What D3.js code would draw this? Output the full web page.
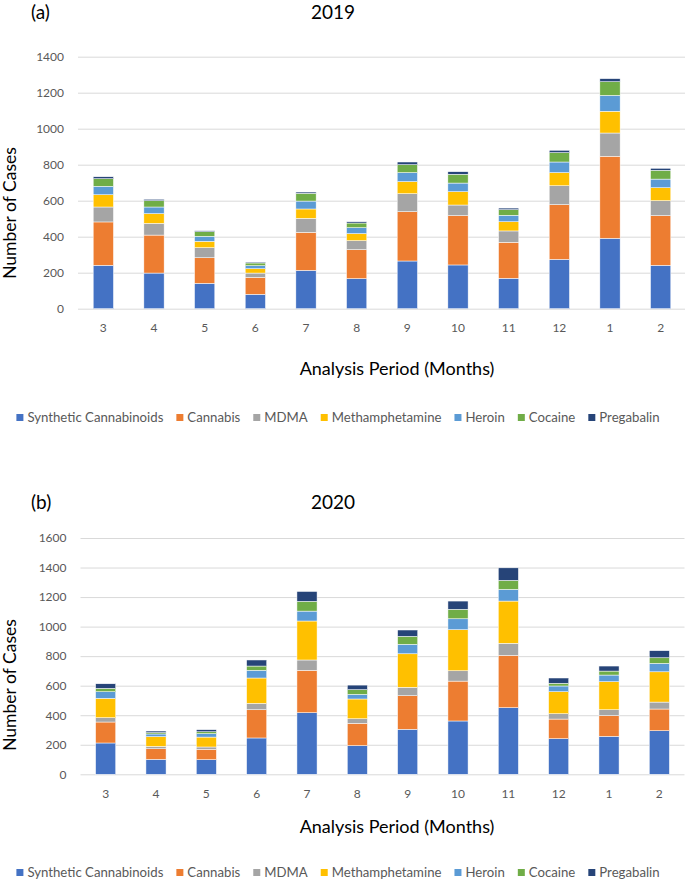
<!DOCTYPE html>
<html>
<head>
<meta charset="utf-8">
<script src="https://cdn.jsdelivr.net/npm/d3@7"></script>
<style>
  body { margin: 0; background: #fff; }
  text { font-family: Lato, "Open Sans", sans-serif; }
</style>
</head>
<body>
<svg id="chart" width="685" height="882"></svg>
<script>
// months of the analysis period (March -> February)
var months = ["3", "4", "5", "6", "7", "8", "9", "10", "11", "12", "1", "2"];
var drugs = ["Synthetic Cannabinoids", "Cannabis", "MDMA", "Methamphetamine", "Heroin", "Cocaine", "Pregabalin"];
var colors = ["#4472C4", "#ED7D31", "#A5A5A5", "#FFC000", "#5B9BD5", "#70AD47", "#264478"];

// 2019
var synth2019 = [241, 198, 141, 80, 213, 167, 265, 243, 169, 274, 391, 241];
var cannabis2019 = [241, 211, 142, 94, 211, 161, 274, 274, 200, 304, 456, 276];
var mdma2019 = [83, 65, 56, 24, 78, 50, 100, 59, 63, 105, 129, 83];
var meth2019 = [68, 54, 35, 24, 52, 39, 67, 74, 51, 73, 121, 72];
var heroin2019 = [47, 37, 28, 17, 44, 33, 50, 48, 36, 59, 88, 48];
var cocaine2019 = [42, 35, 26, 15, 43, 26, 44, 49, 31, 52, 76, 49];
var pregabalin2019 = [11, 8, 5, 5, 7, 7, 15, 14, 9, 13, 17, 11];

// 2020
var synth2020 = [212, 101, 99, 246, 417, 194, 305, 361, 451, 241, 257, 295];
var cannabis2020 = [142, 72, 70, 191, 287, 151, 227, 270, 354, 133, 140, 147];
var mdma2020 = [29, 16, 16, 43, 70, 31, 57, 70, 82, 36, 40, 47];
var meth2020 = [131, 66, 67, 172, 264, 134, 227, 278, 286, 149, 190, 205];
var heroin2020 = [45, 18, 23, 52, 67, 31, 64, 74, 79, 39, 45, 57];
var cocaine2020 = [23, 9, 13, 29, 66, 32, 54, 64, 61, 18, 27, 38];
var pregabalin2020 = [31, 11, 14, 41, 67, 31, 43, 56, 85, 36, 34, 48];

var svg = d3.select("#chart");
var color = d3.scaleOrdinal().domain(drugs).range(colors);

function toRows(series) {
  return months.map(function(m, i) {
    var row = { month: m };
    drugs.forEach(function(d, j) { row[d] = series[j][i]; });
    return row;
  });
}

function drawPanel(cfg) {
  var g = svg.append("g");

  var x = d3.scaleBand().domain(months)
    .range([cfg.left, cfg.right])
    .paddingInner(0.6).paddingOuter(0.3);
  var y = d3.scaleLinear().domain([0, cfg.max]).range([cfg.bottom, cfg.top]);

  // gridlines + y labels
  g.append("g")
    .attr("transform", "translate(" + cfg.left + ",0)")
    .call(d3.axisLeft(y).tickValues(d3.range(0, cfg.max + 1, 200))
      .tickFormat(d3.format("d"))
      .tickSize(-(cfg.right - cfg.left)).tickPadding(14))
    .call(function(a) { a.select(".domain").remove(); })
    .call(function(a) { a.selectAll("line").attr("stroke", "#d9d9d9"); })
    .call(function(a) {
      a.selectAll("text").attr("fill", "#595959")
        .style("font-size", "12px").style("font-family", "Lato, sans-serif");
    });

  // x labels
  g.append("g")
    .attr("transform", "translate(0," + cfg.bottom + ")")
    .call(d3.axisBottom(x).tickSize(0).tickPadding(15))
    .call(function(a) { a.select(".domain").remove(); })
    .call(function(a) {
      a.selectAll("text").attr("fill", "#595959")
        .style("font-size", "12px").style("font-family", "Lato, sans-serif");
    });

  var stacked = d3.stack().keys(drugs)(toRows(cfg.series));

  g.selectAll("g.layer")
    .data(stacked)
    .enter().append("g")
      .attr("class", "layer")
      .attr("fill", function(d) { return color(d.key); })
    .selectAll("rect")
    .data(function(d) { return d; })
    .enter().append("rect")
      .attr("x", function(d) { return x(d.data.month); })
      .attr("y", function(d) { return y(d[1]); })
      .attr("width", x.bandwidth())
      .attr("height", function(d) { return y(d[0]) - y(d[1]); })
      .attr("stroke", "#fff")
      .attr("stroke-width", 0.5);

  // titles
  g.append("text").attr("x", 31).attr("y", cfg.titleY)
    .style("font-size", "19px").attr("fill", "#000").text(cfg.tag);
  g.append("text").attr("x", 333).attr("y", cfg.titleY)
    .attr("text-anchor", "middle")
    .style("font-size", "19px").attr("fill", "#000").text(cfg.year);

  g.append("text").attr("x", 397).attr("y", cfg.xTitleY)
    .attr("text-anchor", "middle")
    .style("font-size", "18px").attr("fill", "#000")
    .text("Analysis Period (Months)");

  g.append("text")
    .attr("transform", "translate(16," + cfg.yTitleMid + ") rotate(-90)")
    .attr("text-anchor", "middle")
    .style("font-size", "17.5px").attr("fill", "#000")
    .text("Number of Cases");

  // legend
  var leg = g.append("g");
  var cx = 0;
  drugs.forEach(function(d) {
    var item = leg.append("g").attr("transform", "translate(" + cx + ",0)");
    item.append("rect").attr("x", 0).attr("y", -8).attr("width", 7).attr("height", 7)
      .attr("fill", color(d));
    var t = item.append("text").attr("x", 11).attr("y", 0)
      .style("font-size", "13.2px").attr("fill", "#595959").text(d);
    cx += 11 + t.node().getComputedTextLength() + 13;
  });
  cx -= 13;
  leg.attr("transform", "translate(" + (338 - cx / 2) + "," + cfg.legendY + ")");
}

drawPanel({
  tag: "(a)", year: "2019", max: 1400,
  left: 78, right: 686, top: 56.7, bottom: 308.7,
  titleY: 19, xTitleY: 375, yTitleMid: 213, legendY: 422,
  series: [synth2019, cannabis2019, mdma2019, meth2019, heroin2019, cocaine2019, pregabalin2019]
});

drawPanel({
  tag: "(b)", year: "2020", max: 1600,
  left: 80.5, right: 684.5, top: 538, bottom: 774.3,
  titleY: 509, xTitleY: 833, yTitleMid: 685, legendY: 877,
  series: [synth2020, cannabis2020, mdma2020, meth2020, heroin2020, cocaine2020, pregabalin2020]
});
</script>
</body>
</html>
